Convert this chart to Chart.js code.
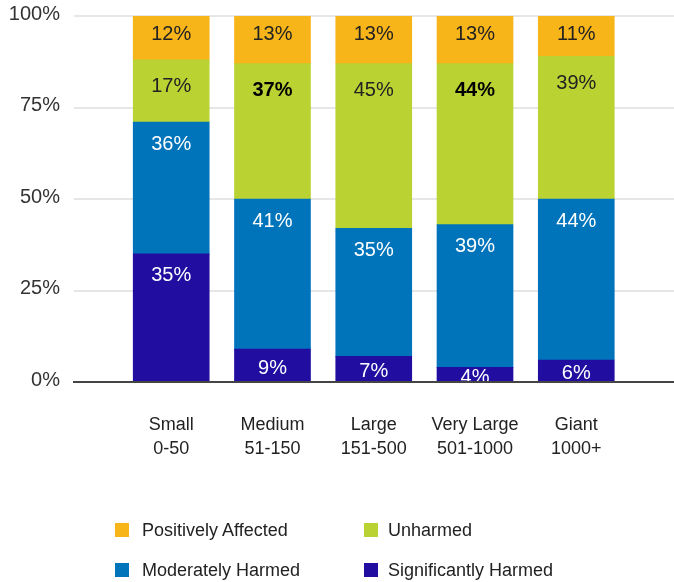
<!DOCTYPE html>
<html>
<head>
<meta charset="utf-8">
<script src="https://cdn.jsdelivr.net/npm/chart.js@4.4.0/dist/chart.umd.min.js"></script>
<style>
  html, body { margin: 0; padding: 0; background: #fff; }
  #wrap { position: relative; width: 674px; height: 582px; }
  #legend { position: absolute; left: 0; top: 0; width: 674px; height: 582px; pointer-events: none;
            font-family: "Liberation Sans", Arial, sans-serif; font-size: 18px; color: #222; }
  .box { position: absolute; width: 14px; height: 14px; }
  .lbl { position: absolute; line-height: 24px; white-space: nowrap; }
</style>
</head>
<body>
<div id="wrap">
  <canvas id="c" width="674" height="582"></canvas>
  <div id="legend"></div>
</div>
<script>
// Company size bands (two-line axis labels)
const categories = [
  ['Small', '0-50'],
  ['Medium', '51-150'],
  ['Large', '151-500'],
  ['Very Large', '501-1000'],
  ['Giant', '1000+']
];

// Share of companies per impact group, in percent (stacked bottom to top)
const significantlyHarmed = [35, 9, 7, 4, 6];
const moderatelyHarmed    = [36, 41, 35, 39, 44];
const unharmed            = [17, 37, 45, 44, 39];
const positivelyAffected  = [12, 13, 13, 13, 11];

const yTickValues = [0, 25, 50, 75, 100];

// Category indexes whose "Unharmed" value is printed in bold
const boldUnharmed = [1, 3];

const FONT = '"Liberation Sans", Arial, sans-serif';

// inset: distance of the value label below the segment top
const series = [
  { label: 'Significantly Harmed', values: significantlyHarmed, color: '#210DA0', text: '#ffffff', inset: 22 },
  { label: 'Moderately Harmed',    values: moderatelyHarmed,    color: '#0074BB', text: '#ffffff', inset: 22 },
  { label: 'Unharmed',             values: unharmed,            color: '#BBD233', text: '#222222', inset: 27, bold: boldUnharmed },
  { label: 'Positively Affected',  values: positivelyAffected,  color: '#F7B51A', text: '#222222', inset: 18 }
];

// Prints each segment's percentage near the top of the segment
const segmentLabels = {
  id: 'segmentLabels',
  afterDatasetsDraw(chart) {
    const ctx = chart.ctx;
    ctx.save();
    ctx.textAlign = 'center';
    ctx.textBaseline = 'middle';
    chart.data.datasets.forEach((ds, di) => {
      const meta = chart.getDatasetMeta(di);
      meta.data.forEach((bar, i) => {
        const { x, y, base } = bar.getProps(['x', 'y', 'base'], true);
        const v = ds.data[i].y;
        const top = Math.min(y, base), bottom = Math.max(y, base);
        const ty = Math.min(top + ds.labelInset, (top + bottom) / 2 + 3);
        const isBold = ds.boldIdx && ds.boldIdx.includes(i);
        ctx.font = (isBold ? 'bold ' : '') + '20px ' + FONT;
        ctx.fillStyle = isBold ? '#000' : ds.textColor;
        ctx.fillText(v + '%', x, ty);
      });
    });
    ctx.restore();
  }
};

const chart = new Chart(document.getElementById('c'), {
  type: 'bar',
  data: {
    datasets: series.map(s => ({
      label: s.label,
      data: s.values.map((v, i) => ({ x: i + 1, y: v })),
      backgroundColor: s.color,
      borderWidth: 0,
      barThickness: 76,
      textColor: s.text,
      labelInset: s.inset,
      boldIdx: s.bold || null
    }))
  },
  options: {
    responsive: false,
    animation: false,
    layout: { padding: { top: 16, right: 0, bottom: 100, left: 0 } },
    plugins: { legend: { display: false }, tooltip: { enabled: false } },
    scales: {
      x: {
        type: 'linear',
        stacked: true,
        offset: false,
        min: 0.04,
        max: 5.965,
        afterBuildTicks(axis) { axis.ticks = categories.map((c, i) => ({ value: i + 1 })); },
        afterFit(axis) { axis.height = 100; axis.paddingLeft = 0; axis.paddingRight = 0; },
        grid: { display: false, drawTicks: false },
        border: { display: true, color: '#444', width: 2, z: 1 },
        ticks: {
          padding: 31,
          color: '#222',
          font: { family: FONT, size: 18, lineHeight: 1.35 },
          callback: v => categories[v - 1]
        }
      },
      y: {
        stacked: true,
        min: 0,
        max: 100,
        afterBuildTicks(axis) { axis.ticks = yTickValues.map(v => ({ value: v })); },
        afterFit(axis) { axis.width = 74; axis.paddingTop = 0; axis.paddingBottom = 0; },
        grid: {
          drawTicks: false,
          lineWidth: 2,
          color: ctx => (ctx.tick && ctx.tick.value === 0) ? 'rgba(0,0,0,0)' : '#e6e6e6'
        },
        border: { display: false },
        ticks: {
          padding: 14,
          labelOffset: -2,
          color: '#333',
          font: { family: FONT, size: 20 },
          callback: v => v + '%'
        }
      }
    }
  },
  plugins: [segmentLabels]
});

// Legend in two columns, top series first
(function buildLegend() {
  const host = document.getElementById('legend');
  const order = chart.data.datasets.slice().reverse();
  const colX = [{ box: 115, text: 142 }, { box: 364, text: 388 }];
  const rowY = [530, 570];
  order.forEach((ds, k) => {
    const col = colX[k % 2], row = rowY[Math.floor(k / 2)];
    const box = document.createElement('span');
    box.className = 'box';
    box.style.left = col.box + 'px';
    box.style.top = (row - 7) + 'px';
    box.style.background = ds.backgroundColor;
    const lbl = document.createElement('span');
    lbl.className = 'lbl';
    lbl.style.left = col.text + 'px';
    lbl.style.top = (row - 12) + 'px';
    lbl.textContent = ds.label;
    host.appendChild(box);
    host.appendChild(lbl);
  });
})();
</script>
</body>
</html>
